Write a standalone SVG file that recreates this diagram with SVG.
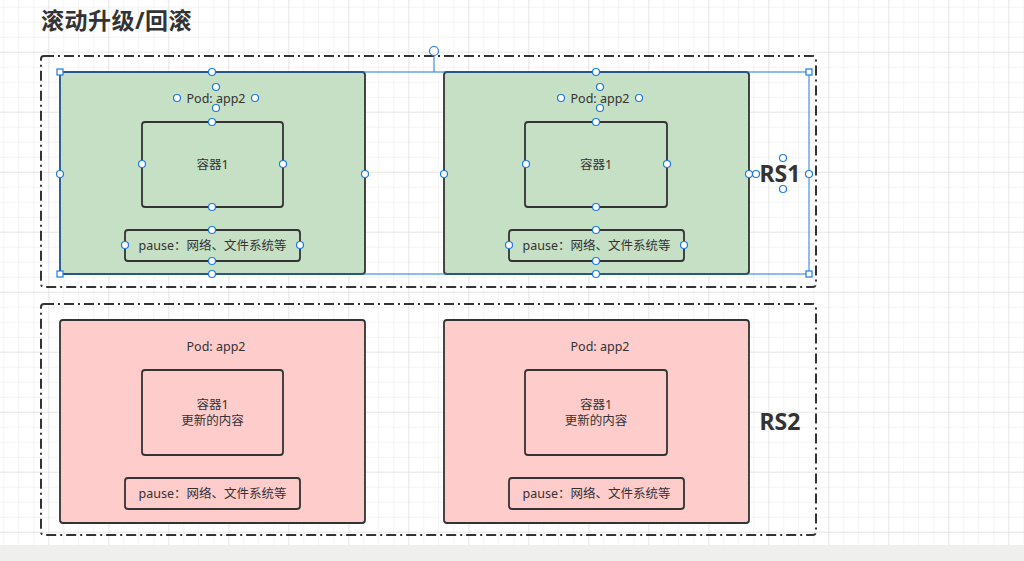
<svg xmlns="http://www.w3.org/2000/svg" width="1024" height="561" viewBox="0 0 1024 561">
<defs>
<pattern id="minor" x="3.3" y="6.7" width="15" height="15" patternUnits="userSpaceOnUse">
<path d="M0 0H15M0 0V15" fill="none" stroke="#e9e9e9" stroke-width="1"/>
</pattern>
<pattern id="major" x="48.3" y="51.7" width="60" height="60" patternUnits="userSpaceOnUse">
<path d="M0 0H60M0 0V60" fill="none" stroke="#dcdcdc" stroke-width="1"/>
</pattern>
</defs>
<style>
.t{font-family:"Noto Sans","Noto Sans CJK SC",sans-serif;fill:#333;text-anchor:middle;dominant-baseline:central}
.s{font-size:12.5px}
.rs{font-size:23px;font-weight:bold}
.grp{fill:none;stroke:#333;stroke-width:2;stroke-dasharray:10 4 2 4}
.podg{fill:#c5e0c5;stroke:#333;stroke-width:1.8}
.podr{fill:#ffcccc;stroke:#333;stroke-width:1.8}
.box{fill:none;stroke:#333;stroke-width:1.8}
.h{fill:#fff;stroke:#1f7ae0;stroke-width:1.2}
.sel{fill:none;stroke:#1f7ae0;stroke-width:1}
</style>
<rect width="1024" height="561" fill="#ffffff"/>
<rect width="1024" height="545" fill="url(#minor)"/>
<rect width="1024" height="545" fill="url(#major)"/>
<rect y="545" width="1024" height="16" fill="#eff0ee"/>

<text x="41" y="20" class="t" style="text-anchor:start;font-size:23px;font-weight:bold;letter-spacing:0.5px">滚动升级/回滚</text>

<g id="rs1">
<rect x="41" y="56" width="775" height="231" rx="3" class="grp"/>
<text x="780" y="173" class="t rs">RS1</text>
</g>
<g id="rs2">
<rect x="41" y="304" width="775" height="231" rx="3" class="grp"/>
<text x="780" y="421" class="t rs">RS2</text>
</g>

<g id="pod1">
<rect x="60" y="72" width="305" height="202" rx="3" class="podg"/>
<text x="216" y="98" class="t s">Pod: app2</text>
<rect x="142" y="122" width="141" height="85" rx="3" class="box"/>
<text x="212.5" y="164" class="t s">容器1</text>
<rect x="125" y="230" width="175" height="31" rx="3" class="box"/>
<text x="212.5" y="245.5" class="t s">pause：网络、文件系统等</text>
</g>
<g id="pod2">
<rect x="444" y="72" width="305" height="202" rx="3" class="podg"/>
<text x="600" y="98" class="t s">Pod: app2</text>
<rect x="525" y="122" width="142" height="85" rx="3" class="box"/>
<text x="596" y="164" class="t s">容器1</text>
<rect x="509" y="230" width="175" height="31" rx="3" class="box"/>
<text x="596.5" y="245.5" class="t s">pause：网络、文件系统等</text>
</g>
<g id="pod3">
<rect x="60" y="320" width="305" height="203" rx="3" class="podr"/>
<text x="216" y="346" class="t s">Pod: app2</text>
<rect x="142" y="370" width="141" height="85" rx="3" class="box"/>
<text x="212.5" y="404" class="t s">容器1</text>
<text x="212.5" y="420" class="t s">更新的内容</text>
<rect x="125" y="478" width="175" height="31" rx="3" class="box"/>
<text x="212.5" y="493.5" class="t s">pause：网络、文件系统等</text>
</g>
<g id="pod4">
<rect x="444" y="320" width="305" height="203" rx="3" class="podr"/>
<text x="600" y="346" class="t s">Pod: app2</text>
<rect x="525" y="370" width="142" height="85" rx="3" class="box"/>
<text x="596" y="404" class="t s">容器1</text>
<text x="596" y="420" class="t s">更新的内容</text>
<rect x="509" y="478" width="175" height="31" rx="3" class="box"/>
<text x="596.5" y="493.5" class="t s">pause：网络、文件系统等</text>
</g>

<g id="connectors"></g>

<g id="selection">
<rect x="60" y="72" width="749" height="202" class="sel"/>
<line x1="434" y1="55" x2="434" y2="72" class="sel"/>
<circle cx="434" cy="51" r="4.5" class="h"/>
<rect x="57" y="69" width="6" height="6" class="h"/>
<rect x="806" y="69" width="6" height="6" class="h"/>
<rect x="57" y="271" width="6" height="6" class="h"/>
<rect x="806" y="271" width="6" height="6" class="h"/>
<g>
<circle cx="212" cy="72" r="3.5" class="h"/>
<circle cx="60" cy="174" r="3.5" class="h"/>
<circle cx="365" cy="174" r="3.5" class="h"/>
<circle cx="212" cy="274" r="3.5" class="h"/>
<circle cx="177" cy="98" r="3.5" class="h"/>
<circle cx="255" cy="98" r="3.5" class="h"/>
<circle cx="216" cy="87" r="3.5" class="h"/>
<circle cx="216" cy="108" r="3.5" class="h"/>
<circle cx="212" cy="122" r="3.5" class="h"/>
<circle cx="142" cy="164" r="3.5" class="h"/>
<circle cx="283" cy="164" r="3.5" class="h"/>
<circle cx="212" cy="207" r="3.5" class="h"/>
<circle cx="212" cy="230" r="3.5" class="h"/>
<circle cx="125" cy="245" r="3.5" class="h"/>
<circle cx="300" cy="245" r="3.5" class="h"/>
<circle cx="212" cy="261" r="3.5" class="h"/>
</g>
<g transform="translate(384,0)">
<circle cx="212" cy="72" r="3.5" class="h"/>
<circle cx="60" cy="174" r="3.5" class="h"/>
<circle cx="365" cy="174" r="3.5" class="h"/>
<circle cx="212" cy="274" r="3.5" class="h"/>
<circle cx="177" cy="98" r="3.5" class="h"/>
<circle cx="255" cy="98" r="3.5" class="h"/>
<circle cx="216" cy="87" r="3.5" class="h"/>
<circle cx="216" cy="108" r="3.5" class="h"/>
<circle cx="212" cy="122" r="3.5" class="h"/>
<circle cx="142" cy="164" r="3.5" class="h"/>
<circle cx="283" cy="164" r="3.5" class="h"/>
<circle cx="212" cy="207" r="3.5" class="h"/>
<circle cx="212" cy="230" r="3.5" class="h"/>
<circle cx="125" cy="245" r="3.5" class="h"/>
<circle cx="300" cy="245" r="3.5" class="h"/>
<circle cx="212" cy="261" r="3.5" class="h"/>
</g>
<circle cx="756" cy="174" r="3.5" class="h"/>
<circle cx="783" cy="158" r="3.5" class="h"/>
<circle cx="783" cy="189" r="3.5" class="h"/>
<circle cx="809" cy="174" r="3.5" class="h"/>
</g>
</svg>
